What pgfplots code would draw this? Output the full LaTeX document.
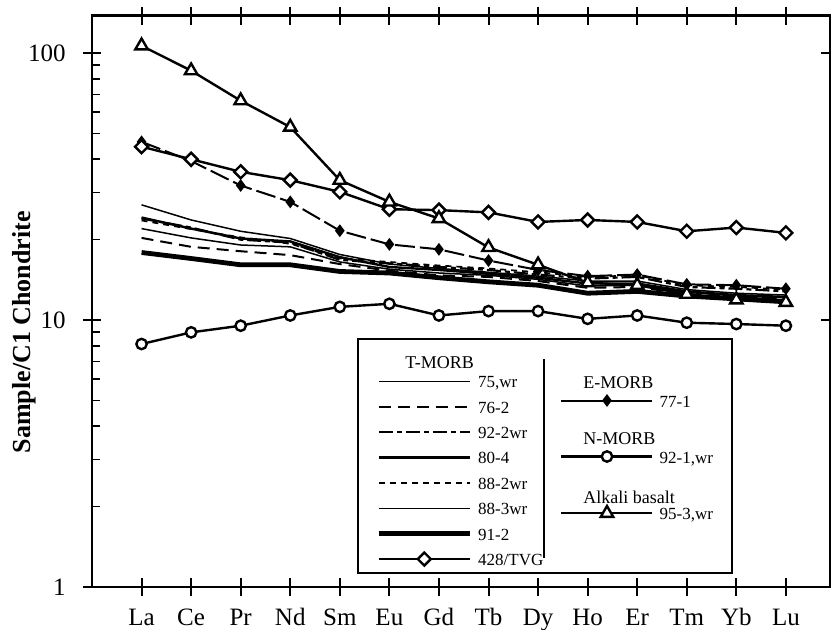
\documentclass[border=0pt]{standalone}
\usepackage{fontspec}
\setmainfont{Liberation Serif}
\usepackage{pgfplots}
\pgfplotsset{compat=1.18}
\usepackage{pgfplotstable}

\pgfplotstableread{
x t75 t762 t922 t804 t882 t883 t912 tvg e771 n921 a953
0 27.0 20.3 24.0 24.2 23.6 22.0 17.9 44.6 46.5 8.13 106.5
1 23.7 18.8 22.2 22.0 21.9 20.3 17.0 40.0 39.4 8.99 85.9
2 21.5 18.1 20.0 20.2 20.4 19.1 16.1 35.9 31.9 9.52 66.3
3 20.2 17.5 19.5 19.7 19.3 18.8 16.1 33.4 27.7 10.4 52.8
4 17.6 16.2 16.8 17.2 17.0 16.5 15.2 30.2 21.6 11.2 33.4
5 16.2 15.3 16.3 15.8 16.5 15.5 15.0 26.0 19.2 11.5 27.7
6 15.6 14.7 15.8 15.4 16.0 15.0 14.4 25.8 18.4 10.4 24.0
7 15.1 14.5 15.4 14.9 15.6 14.7 13.9 25.3 16.7 10.8 18.7
8 14.6 14.0 14.8 14.4 15.1 14.2 13.5 23.3 15.4 10.8 16.1
9 14.0 13.2 14.3 13.7 14.5 13.4 12.6 23.7 14.6 10.1 13.8
10 14.0 13.3 14.5 13.7 14.7 13.5 12.8 23.3 14.8 10.4 13.5
11 13.0 12.5 13.3 12.8 13.5 12.7 12.3 21.5 13.6 9.77 12.5
12 12.6 12.2 13.1 12.4 13.3 12.3 12.0 22.2 13.5 9.66 11.9
13 12.4 12.0 12.8 12.2 13.0 12.1 11.7 21.2 13.1 9.52 11.65
}\ree

\pgfplotsset{
 s75/.style={black, line width=0.75pt, solid},
 s762/.style={black, line width=1pt, dash pattern=on 6pt off 3.5pt},
 s922/.style={black, line width=1.1pt, dash pattern=on 7pt off 2pt on 2.5pt off 2pt},
 s804/.style={black, line width=1.2pt, solid},
 s882/.style={black, line width=0.85pt, dash pattern=on 3pt off 2.5pt},
 s883/.style={black, line width=0.75pt, solid},
 s912/.style={black, line width=2.4pt, solid},
 stvg/.style={black, line width=1.2pt, solid, mark=square*, mark size=2.3pt, mark options={rotate=45, fill=white, draw=black, solid, line width=1.2pt}},
 se771/.style={black, line width=1pt, dash pattern=on 10pt off 2.5pt, mark=diamond*, mark size=2.4pt, mark options={solid, fill=black}},
 se771leg/.style={black, line width=1pt, solid, mark=diamond*, mark size=2.4pt, mark options={solid, fill=black}},
 sn921/.style={black, line width=1.2pt, solid, mark=*, mark size=2.6pt, mark options={fill=white, draw=black, solid}},
 sa953/.style={black, line width=1.2pt, solid, mark=triangle*, mark size=3.6pt, mark options={fill=white, draw=black, solid}},
 myleg/.style={legend image code/.code={\draw[mark repeat=2, mark phase=2, ##1] plot coordinates {(0pt,1pt) (22.75pt,1pt) (45.5pt,1pt)};}},
 hid/.style={at={(0,0)}, anchor=south west, width=369pt, height=285.65pt, scale only axis, hide axis, xmin=0, xmax=1, ymin=0, ymax=1, myleg, legend cell align=left},
}

\begin{document}
\begin{tikzpicture}
\path[use as bounding box] (-46pt,-21.5pt) rectangle (369.5pt,293.5pt);
\begin{axis}[
 at={(0,0)}, anchor=south west,
 width=369pt, height=285.65pt, scale only axis,
 ymode=log, ymin=1, ymax=138,
 xmin=-1, xmax=13.89,
 xtick={0,...,13},
 xticklabels={La,Ce,Pr,Nd,Sm,Eu,Gd,Tb,Dy,Ho,Er,Tm,Yb,Lu},
 ytick={1,10,100},
 yticklabels={1,10,100},
 minor ytick={2,3,4,5,6,7,8,9,20,30,40,50,60,70,80,90},
 xtick pos=both, ytick pos=both,
 xticklabel pos=lower, yticklabel pos=left,
 tick align=center,
 major tick length=9pt, minor tick length=4pt,
 every major tick/.append style={black, line width=1pt},
 every minor tick/.append style={black, line width=0.8pt, xshift=2pt},
 axis line style={black, line width=1.2pt},
 yticklabel style={font=\fontsize{12.5}{13}\selectfont, anchor=east, inner sep=0pt, xshift=-8.5pt},
 xticklabel style={font=\fontsize{12.5}{13}\selectfont, anchor=base, inner sep=0pt, yshift=-15pt},
 ylabel={Sample/C1 Chondrite},
 ylabel style={font=\fontsize{13}{15}\selectfont\bfseries, at={(axis description cs:-0.092,0.446)}, anchor=center},
]
\addplot[s912] table[x=x,y=t912]{\ree};
\addplot[s762] table[x=x,y=t762]{\ree};
\addplot[s883] table[x=x,y=t883]{\ree};
\addplot[s804] table[x=x,y=t804]{\ree};
\addplot[s922] table[x=x,y=t922]{\ree};
\addplot[s882] table[x=x,y=t882]{\ree};
\addplot[s75] table[x=x,y=t75]{\ree};
\addplot[sn921] table[x=x,y=n921]{\ree};
\addplot[se771] table[x=x,y=e771]{\ree};
\addplot[stvg] table[x=x,y=tvg]{\ree};
\addplot[sa953] table[x=x,y=a953]{\ree};
\end{axis}

\begin{axis}[hid,
 legend style={draw=none, fill=none, at={(0.3848,0.3722)}, anchor=north west, inner sep=0pt, row sep=4.2pt, column sep=3pt, font=\fontsize{8.5}{9}\selectfont, nodes={inner sep=0pt, text height=6.5pt, text depth=2pt}}]
\addlegendimage{s75}\addlegendentry{75,wr}
\addlegendimage{s762}\addlegendentry{76-2}
\addlegendimage{s922}\addlegendentry{92-2wr}
\addlegendimage{s804}\addlegendentry{80-4}
\addlegendimage{s882}\addlegendentry{88-2wr}
\addlegendimage{s883}\addlegendentry{88-3wr}
\addlegendimage{s912}\addlegendentry{91-2}
\addlegendimage{stvg}\addlegendentry{428/TVG}
\end{axis}

\begin{axis}[hid,
 legend style={draw=none, fill=none, at={(0.634,0.3385)}, anchor=north west, inner sep=0pt, row sep=19.5pt, column sep=3pt, font=\fontsize{8.5}{9}\selectfont, nodes={inner sep=0pt, text height=6.5pt, text depth=2pt}}]
\addlegendimage{se771leg}\addlegendentry{77-1}
\addlegendimage{sn921}\addlegendentry{92-1,wr}
\addlegendimage{sa953}\addlegendentry{95-3,wr}
\end{axis}

\begin{scope}[every node/.style={anchor=base west, inner sep=0pt, font=\fontsize{9}{9}\selectfont}]
\node at (156.5pt,109.3pt) {T-MORB};
\node at (245.5pt,99.3pt) {E-MORB};
\node at (245.5pt,71.3pt) {N-MORB};
\node at (245.5pt,41.8pt) {Alkali basalt};
\end{scope}
\draw[line width=0.7pt] (133pt,7pt) rectangle (320pt,124pt);
\draw[line width=0.7pt] (226pt,14.5pt) -- (226pt,114pt);
\end{tikzpicture}
\end{document}
